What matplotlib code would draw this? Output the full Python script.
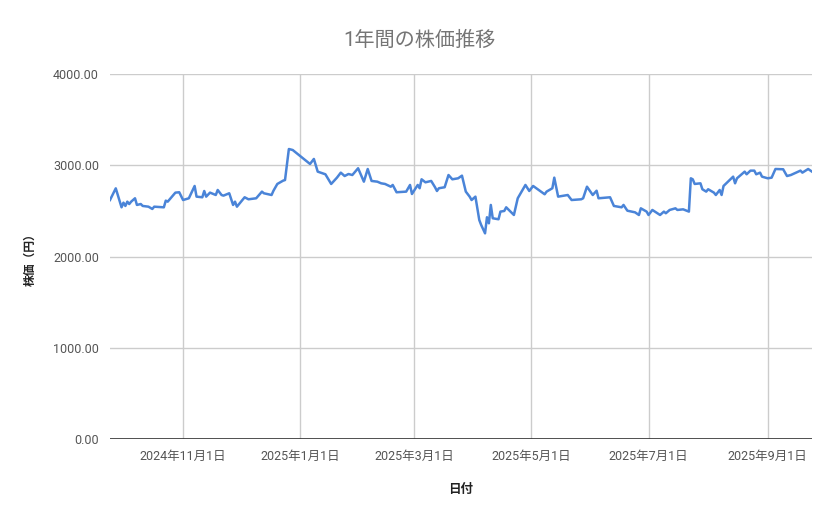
import pandas as pd
import matplotlib.pyplot as plt
from matplotlib.ticker import FormatStrFormatter

# daily close prices (yen)
dates = [
    "2024-09-24", "2024-09-27", "2024-09-30", "2024-10-01", "2024-10-02", "2024-10-03",
    "2024-10-04", "2024-10-05", "2024-10-07", "2024-10-08", "2024-10-10", "2024-10-11",
    "2024-10-14", "2024-10-16", "2024-10-17", "2024-10-22", "2024-10-23", "2024-10-24",
    "2024-10-28", "2024-10-30", "2024-11-01", "2024-11-04", "2024-11-07", "2024-11-08",
    "2024-11-11", "2024-11-12", "2024-11-13", "2024-11-15", "2024-11-18", "2024-11-19",
    "2024-11-21", "2024-11-22", "2024-11-25", "2024-11-27", "2024-11-28", "2024-11-29",
    "2024-12-03", "2024-12-05", "2024-12-09", "2024-12-12", "2024-12-13", "2024-12-17",
    "2024-12-18", "2024-12-20", "2024-12-23", "2024-12-24", "2024-12-26", "2024-12-28",
    "2025-01-06", "2025-01-08", "2025-01-10", "2025-01-14", "2025-01-17", "2025-01-20",
    "2025-01-22", "2025-01-24", "2025-01-26", "2025-01-28", "2025-01-31", "2025-02-03",
    "2025-02-05", "2025-02-07", "2025-02-10", "2025-02-12", "2025-02-14", "2025-02-17",
    "2025-02-18", "2025-02-20", "2025-02-25", "2025-02-27", "2025-02-28", "2025-03-03",
    "2025-03-04", "2025-03-05", "2025-03-07", "2025-03-10", "2025-03-12", "2025-03-13",
    "2025-03-14", "2025-03-17", "2025-03-19", "2025-03-21", "2025-03-24", "2025-03-26",
    "2025-03-28", "2025-03-30", "2025-03-31", "2025-04-02", "2025-04-04", "2025-04-05",
    "2025-04-07", "2025-04-08", "2025-04-09", "2025-04-10", "2025-04-11", "2025-04-14",
    "2025-04-15", "2025-04-17", "2025-04-18", "2025-04-22", "2025-04-24", "2025-04-28",
    "2025-04-30", "2025-05-02", "2025-05-08", "2025-05-09", "2025-05-12", "2025-05-13",
    "2025-05-15", "2025-05-20", "2025-05-22", "2025-05-27", "2025-05-28", "2025-05-30",
    "2025-06-02", "2025-06-04", "2025-06-05", "2025-06-11", "2025-06-13", "2025-06-17",
    "2025-06-18", "2025-06-20", "2025-06-24", "2025-06-26", "2025-06-27", "2025-06-30",
    "2025-07-01", "2025-07-03", "2025-07-07", "2025-07-09", "2025-07-10", "2025-07-12",
    "2025-07-15", "2025-07-16", "2025-07-19", "2025-07-22", "2025-07-23", "2025-07-24",
    "2025-07-25", "2025-07-28", "2025-07-29", "2025-07-31", "2025-08-01", "2025-08-04",
    "2025-08-05", "2025-08-07", "2025-08-08", "2025-08-09", "2025-08-14", "2025-08-15",
    "2025-08-16", "2025-08-20", "2025-08-21", "2025-08-23", "2025-08-25", "2025-08-26",
    "2025-08-28", "2025-08-29", "2025-09-01", "2025-09-03", "2025-09-05", "2025-09-09",
    "2025-09-11", "2025-09-13", "2025-09-18", "2025-09-19", "2025-09-22", "2025-09-24",
]
prices = [
    2619, 2747, 2539, 2590, 2554, 2601,
    2575, 2601, 2638, 2565, 2575, 2554,
    2546, 2521, 2546, 2539, 2612, 2601,
    2700, 2704, 2619, 2638, 2773, 2656,
    2649, 2718, 2656, 2700, 2674, 2729,
    2674, 2667, 2693, 2565, 2601, 2546,
    2649, 2627, 2638, 2711, 2693, 2674,
    2721, 2795, 2831, 2838, 3178, 3167,
    3014, 3069, 2930, 2901, 2795, 2864,
    2919, 2882, 2904, 2893, 2967, 2820,
    2959, 2828, 2820, 2802, 2795, 2765,
    2784, 2704, 2711, 2784, 2685, 2784,
    2748, 2846, 2813, 2828, 2759, 2718,
    2748, 2759, 2893, 2846, 2857, 2886,
    2711, 2656, 2619, 2656, 2400, 2345,
    2254, 2430, 2364, 2565, 2419, 2408,
    2492, 2499, 2539, 2455, 2638, 2784,
    2718, 2773, 2682, 2711, 2748, 2864,
    2656, 2674, 2619, 2627, 2638, 2765,
    2674, 2721, 2638, 2649, 2554, 2539,
    2565, 2502, 2484, 2455, 2528, 2492,
    2455, 2510, 2455, 2492, 2474, 2510,
    2528, 2510, 2517, 2492, 2857, 2846,
    2795, 2802, 2737, 2711, 2737, 2700,
    2674, 2729, 2674, 2773, 2875, 2802,
    2857, 2930, 2901, 2941, 2941, 2901,
    2919, 2875, 2857, 2864, 2959, 2956,
    2882, 2893, 2941, 2919, 2959, 2930,
]

tick_dates = ["2024-11-01", "2025-01-01", "2025-03-01", "2025-05-01", "2025-07-01", "2025-09-01"]
tick_labels = ["2024年11月1日", "2025年1月1日", "2025年3月1日", "2025年5月1日", "2025年7月1日", "2025年9月1日"]
y_ticks = [0, 1000, 2000, 3000, 4000]

plt.rcParams['font.family'] = ['Roboto', 'Noto Sans CJK JP', 'DejaVu Sans']

df = pd.DataFrame({"date": pd.to_datetime(dates), "price": prices})

fig = plt.figure(figsize=(8.39, 5.19), dpi=100)
ax = fig.add_axes([110 / 839, 80 / 519, 702 / 839, 365 / 519])

ax.plot(df["date"], df["price"], color="#4a84d8", linewidth=1.8)

ax.set_xlim(df["date"].iloc[0], df["date"].iloc[-1])
ax.set_ylim(0, 4000)
ax.set_yticks(y_ticks)
ax.yaxis.set_major_formatter(FormatStrFormatter("%.2f"))
ax.set_xticks(pd.to_datetime(tick_dates))
ax.set_xticklabels(tick_labels)

ax.grid(True, color="#cccccc", linewidth=1)
ax.set_axisbelow(True)
for s in ax.spines.values():
    s.set_visible(False)
ax.axhline(0, color="#333333", linewidth=1.2)
ax.tick_params(length=0, labelsize=9, colors="#555555", pad=8)

ax.set_xlabel("日付", fontsize=9, color="#222222", fontweight="bold", labelpad=14)
ax.set_ylabel("株価（円）", fontsize=8.5, color="#222222", fontweight="bold", labelpad=12)

fig.text(0.5, 1 - 40 / 519, "1年間の株価推移", ha="center", va="center",
         fontsize=14.5, color="#757575")

fig.savefig("out.png", dpi=100)
